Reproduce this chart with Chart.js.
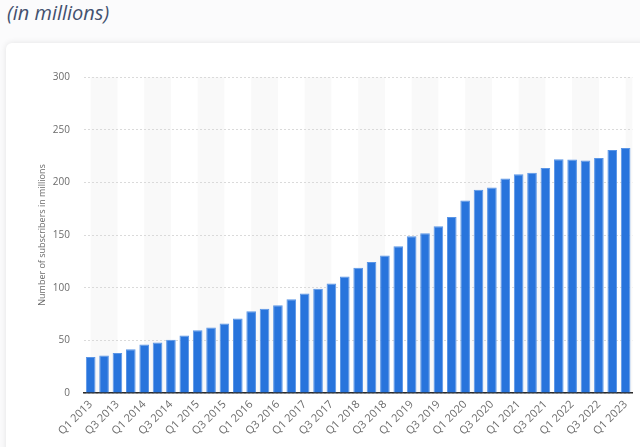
<!DOCTYPE html>
<html>
<head>
<meta charset="utf-8">
<script src="https://cdn.jsdelivr.net/npm/chart.js@4.4.1/dist/chart.umd.min.js"></script>
<style>
  html, body { margin: 0; padding: 0; }
  body { width: 640px; height: 447px; overflow: hidden; background: #fbfbfc; position: relative; font-family: "Open Sans", sans-serif; }
  .sub-title { position: absolute; left: 7px; top: -1px; font-size: 20px; line-height: 27px; font-style: italic; color: #43516f; }
  .card { position: absolute; left: 6px; top: 43px; width: 700px; height: 460px; background: #fff; border-radius: 6px; box-shadow: 0 0 6px rgba(0,0,0,0.10); }
  #chart { position: absolute; left: 6px; top: 43px; }
</style>
</head>
<body>
<div class="sub-title">(in millions)</div>
<div class="card"></div>
<canvas id="chart" width="634" height="404"></canvas>
<script>
/* ── data ── */
const quarters = [
  'Q1 2013','Q2 2013','Q3 2013','Q4 2013','Q1 2014','Q2 2014','Q3 2014','Q4 2014',
  'Q1 2015','Q2 2015','Q3 2015','Q4 2015','Q1 2016','Q2 2016','Q3 2016','Q4 2016',
  'Q1 2017','Q2 2017','Q3 2017','Q4 2017','Q1 2018','Q2 2018','Q3 2018','Q4 2018',
  'Q1 2019','Q2 2019','Q3 2019','Q4 2019','Q1 2020','Q2 2020','Q3 2020','Q4 2020',
  'Q1 2021','Q2 2021','Q3 2021','Q4 2021','Q1 2022','Q2 2022','Q3 2022','Q4 2022',
  'Q1 2023'
];
const subscribers = [
  34.24, 35.63, 38.01, 41.43, 46.13, 47.99, 50.65, 54.48,
  59.62, 62.08, 66.02, 70.84, 77.71, 79.9, 83.28, 89.09,
  94.36, 99.04, 104.02, 110.64, 118.9, 124.35, 130.42, 139.26,
  148.86, 151.56, 158.33, 167.09, 182.86, 192.95, 195.15, 203.66,
  207.64, 209.18, 213.56, 221.84, 221.64, 220.67, 223.09, 230.75,
  232.5
];
const yTicks = [0, 50, 100, 150, 200, 250, 300];

const tickFont = { family: '"Open Sans", sans-serif', size: 10 };
const grey = '#6b6b6b';

// light stripes behind every other pair of quarters
const stripes = {
  id: 'stripes',
  beforeDraw(chart) {
    const { ctx, chartArea: a, scales: { x } } = chart;
    ctx.save();
    ctx.beginPath(); ctx.rect(a.left, a.top, a.right - a.left, a.bottom - a.top); ctx.clip();
    ctx.fillStyle = '#f9f9f9';
    for (let i = 0; i < quarters.length; i += 4) {
      const x0 = x.getPixelForValue(i), x1 = x.getPixelForValue(i + 2);
      ctx.fillRect(x0, a.top, x1 - x0, a.bottom - a.top);
    }
    ctx.restore();
  }
};

new Chart(document.getElementById('chart'), {
  type: 'bar',
  data: {
    labels: quarters,
    datasets: [{
      label: 'Subscribers', data: subscribers,
      backgroundColor: '#2874dc',
      borderColor: '#5a95e6',
      borderWidth: { top: 1, left: 1, right: 1, bottom: 0 },
      borderSkipped: 'bottom',
      categoryPercentage: 1, barPercentage: 0.72
    }]
  },
  options: {
    responsive: false, animation: false,
    layout: { padding: { top: 34, right: 3, left: 0, bottom: 0 } },
    plugins: { legend: { display: false }, tooltip: { enabled: false } },
    scales: {
      x: {
        z: 1,
        grid: { display: false, drawTicks: false },
        border: { display: true, color: '#2a2a2a', width: 1.5 },
        ticks: {
          autoSkip: false, maxRotation: 45, minRotation: 45, padding: 5,
          color: grey, font: { family: '"Open Sans", sans-serif', size: 11 },
          callback: function (v, i) { return i % 2 === 0 ? quarters[i] : ''; }
        },
        afterFit: function (s) { s.height = 54; }
      },
      y: {
        min: 0, max: 300,
        afterBuildTicks: function (s) { s.ticks = yTicks.map(function (v) { return { value: v }; }); },
        grid: { color: '#dadada', drawTicks: false, lineWidth: 1 },
        border: { display: false, dash: [2, 2] },
        ticks: { padding: 14, color: grey, font: tickFont },
        title: {
          display: true, text: 'Number of subscribers in millions',
          color: grey, font: { family: '"Open Sans", sans-serif', size: 9 },
          padding: { top: 31, bottom: 0 }
        },
        afterFit: function (s) { s.width = 78; }
      }
    }
  },
  plugins: [stripes]
});
</script>
</body>
</html>
